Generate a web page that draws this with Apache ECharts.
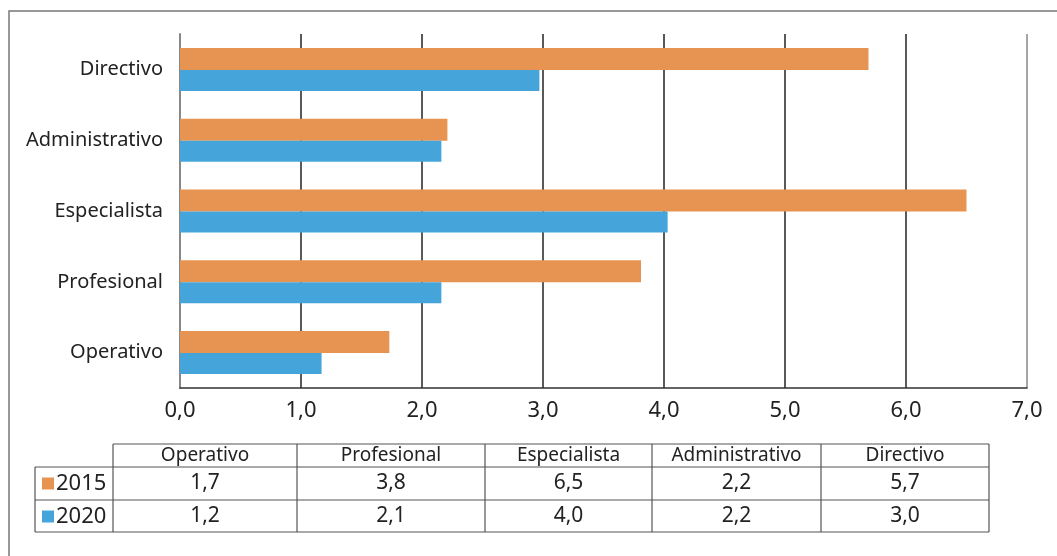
<!DOCTYPE html>
<html>
<head>
<meta charset="utf-8">
<script src="https://cdn.jsdelivr.net/npm/echarts@6/dist/echarts.min.js"></script>
<style>
  html, body { margin: 0; padding: 0; background: #fff; }
  #chart { width: 1057px; height: 556px; }
</style>
</head>
<body>
<div id="chart"></div>
<script>
// categorías (de abajo hacia arriba en el gráfico)
const categorias = ['Operativo', 'Profesional', 'Especialista', 'Administrativo', 'Directivo'];
// longitudes de barras
const barras2015 = [1.73, 3.81, 6.5, 2.21, 5.69];
const barras2020 = [1.17, 2.16, 4.03, 2.16, 2.97];
// valores mostrados en la tabla
const tabla2015 = [1.7, 3.8, 6.5, 2.2, 5.7];
const tabla2020 = [1.2, 2.1, 4.0, 2.2, 3.0];
const series = ['2015', '2020'];

const NARANJA = '#e79352';
const AZUL = '#45a5da';
const FONT = '"Noto Sans", sans-serif';

const fmt = (v) => v.toFixed(1).replace('.', ',');

const chart = echarts.init(document.getElementById('chart'), null, { renderer: 'canvas' });

// tabla de datos bajo el gráfico
const colX = [113, 297, 485, 652, 821, 989];
const rowY = [444, 467, 500, 532];
const leftX = 35;
const lineStyle = { stroke: '#555', lineWidth: 1.2 };
const graphic = [];

// marco exterior
graphic.push({
  type: 'rect', silent: true,
  shape: { x: 9, y: 11, width: 1100, height: 600 },
  style: { fill: null, stroke: '#777', lineWidth: 1.5 }
});

const hline = (y, x1, x2) => graphic.push({ type: 'line', silent: true, shape: { x1, y1: y, x2, y2: y }, style: lineStyle });
const vline = (x, y1, y2) => graphic.push({ type: 'line', silent: true, shape: { x1: x, y1, x2: x, y2 }, style: lineStyle });

hline(rowY[0], colX[0], colX[5]);
hline(rowY[1], leftX, colX[5]);
hline(rowY[2], leftX, colX[5]);
hline(rowY[3], leftX, colX[5]);
vline(leftX, rowY[1], rowY[3]);
colX.forEach((x) => vline(x, rowY[0], rowY[3]));

const celda = (text, x, y, size) => graphic.push({
  type: 'text', silent: true, x, y,
  style: { text, fill: '#222', font: `${size}px ${FONT}`, align: 'center', verticalAlign: 'middle' }
});

categorias.forEach((c, i) => {
  const cx = (colX[i] + colX[i + 1]) / 2;
  celda(c, cx, (rowY[0] + rowY[1]) / 2, 19);
  celda(fmt(tabla2015[i]), cx, (rowY[1] + rowY[2]) / 2, 21);
  celda(fmt(tabla2020[i]), cx, (rowY[2] + rowY[3]) / 2, 21);
});

[[series[0], NARANJA, rowY[1]], [series[1], AZUL, rowY[2]]].forEach(([nombre, color, y0]) => {
  const cy = y0 + 16.5;
  graphic.push({ type: 'rect', silent: true, shape: { x: 42, y: cy - 6, width: 12, height: 12 }, style: { fill: color } });
  graphic.push({
    type: 'text', silent: true, x: 56, y: cy,
    style: { text: nombre, fill: '#222', font: `22px ${FONT}`, align: 'left', verticalAlign: 'middle' }
  });
});

chart.setOption({
  backgroundColor: '#fff',
  animation: false,
  grid: { left: 180, right: 30, top: 34, bottom: 168, containLabel: false },
  xAxis: {
    type: 'value',
    min: 0,
    max: 7,
    interval: 1,
    axisLine: { show: true, lineStyle: { color: '#333', width: 1.5 } },
    axisTick: { show: false },
    axisLabel: {
      color: '#222', fontSize: 22, fontFamily: FONT, margin: 12,
      formatter: (v) => fmt(v)
    },
    splitLine: {
      show: true,
      lineStyle: { color: ['#888', '#222', '#222', '#222', '#222', '#222', '#222', '#888'], width: 1.5 }
    }
  },
  yAxis: {
    type: 'category',
    data: categorias,
    axisLine: { show: true, lineStyle: { color: '#888', width: 2 } },
    axisTick: { show: false },
    axisLabel: { color: '#222', fontSize: 20, fontFamily: FONT, margin: 17 }
  },
  series: [
    {
      name: series[0], type: 'bar', data: barras2015,
      itemStyle: { color: NARANJA }, barWidth: 22, barGap: '0%'
    },
    {
      name: series[1], type: 'bar', data: barras2020,
      itemStyle: { color: AZUL }, barWidth: 21, barGap: '0%'
    }
  ],
  graphic
});
</script>
</body>
</html>
